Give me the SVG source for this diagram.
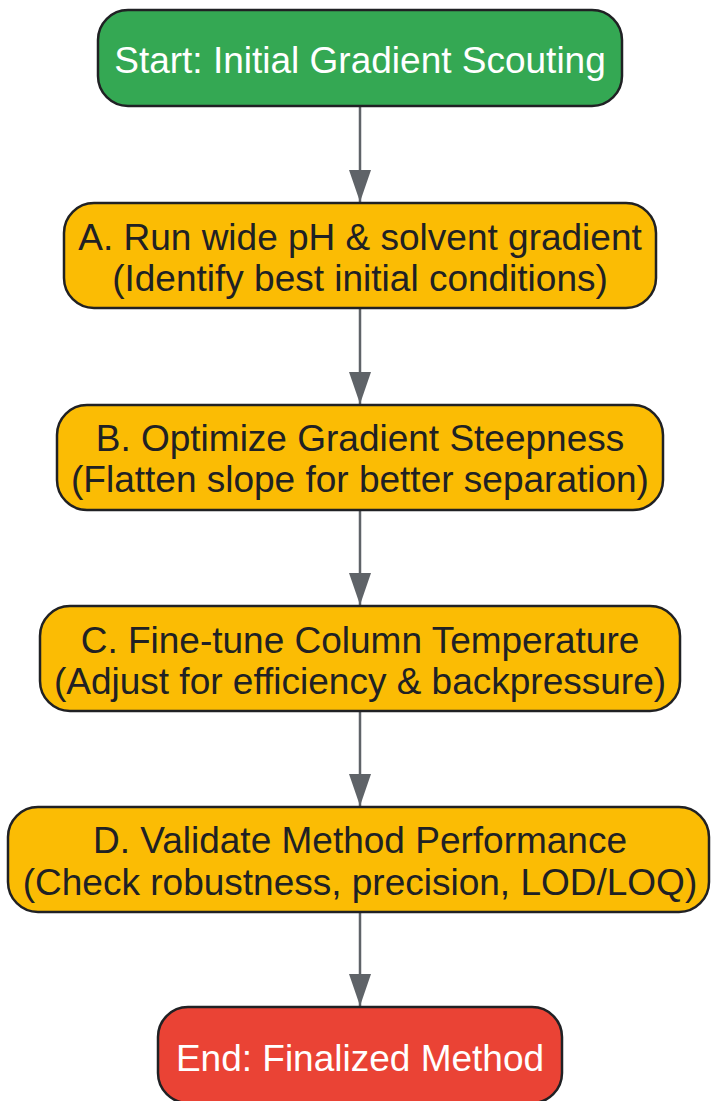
<svg xmlns="http://www.w3.org/2000/svg" width="711" height="1101" viewBox="0 0 711 1101">
<defs>
<style>
.node rect{stroke:#202124;stroke-width:2.5}
.t{font-family:"Liberation Sans",Arial,sans-serif;font-size:37px;text-anchor:middle;dominant-baseline:central}
.w{fill:#ffffff}.d{fill:#202124}
.conn line{stroke:#5f6368;stroke-width:2.5}
</style>
<marker id="ah" viewBox="0 0 32 22" markerWidth="32" markerHeight="22" refX="32" refY="11" orient="auto" markerUnits="userSpaceOnUse">
<path d="M0,0 L32,11 L0,22 Z" fill="#5f6368"/>
</marker>
</defs>
<rect width="711" height="1101" fill="#ffffff"/>
<g class="conn">
<line x1="360" y1="106" x2="360" y2="202" marker-end="url(#ah)"/>
<line x1="360" y1="308" x2="360" y2="404" marker-end="url(#ah)"/>
<line x1="360" y1="510" x2="360" y2="605" marker-end="url(#ah)"/>
<line x1="360" y1="711" x2="360" y2="806" marker-end="url(#ah)"/>
<line x1="360" y1="912" x2="360" y2="1006" marker-end="url(#ah)"/>
</g>
<g id="start" class="node"><rect x="98" y="10" width="524" height="96" rx="30" fill="#34a853"/><text class="t w" x="360" y="60">Start: Initial Gradient Scouting</text></g>
<g id="a" class="node"><rect x="64" y="203" width="592" height="105" rx="30" fill="#fbbc04"/><text class="t d" x="360" y="237">A. Run wide pH &amp; solvent gradient</text><text class="t d" x="360" y="278">(Identify best initial conditions)</text></g>
<g id="b" class="node"><rect x="57" y="405" width="606" height="105" rx="30" fill="#fbbc04"/><text class="t d" x="360" y="438">B. Optimize Gradient Steepness</text><text class="t d" x="360" y="479">(Flatten slope for better separation)</text></g>
<g id="c" class="node"><rect x="40" y="606" width="640" height="105" rx="30" fill="#fbbc04"/><text class="t d" x="360" y="640">C. Fine-tune Column Temperature</text><text class="t d" x="360" y="681">(Adjust for efficiency &amp; backpressure)</text></g>
<g id="d" class="node"><rect x="8" y="807" width="701" height="105" rx="30" fill="#fbbc04"/><text class="t d" x="360" y="840">D. Validate Method Performance</text><text class="t d" x="360" y="882">(Check robustness, precision, LOD/LOQ)</text></g>
<g id="end" class="node"><rect x="158" y="1007" width="404" height="96" rx="30" fill="#ea4335"/><text class="t w" x="360" y="1058">End: Finalized Method</text></g>
</svg>
